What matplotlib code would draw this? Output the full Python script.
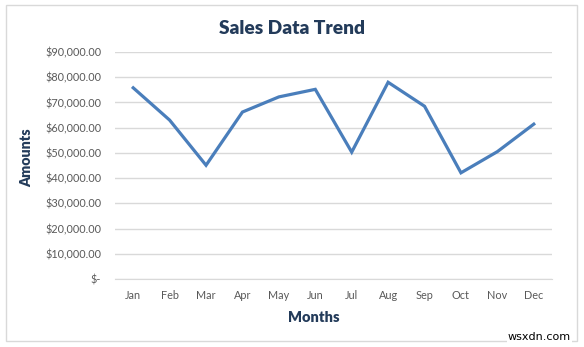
import matplotlib
matplotlib.use("Agg")
import matplotlib.pyplot as plt
from matplotlib.patches import Rectangle
from matplotlib.ticker import FuncFormatter, MultipleLocator

months = ["Jan", "Feb", "Mar", "Apr", "May", "Jun",
          "Jul", "Aug", "Sep", "Oct", "Nov", "Dec"]
sales = [75800, 63000, 45100, 66200, 72200, 75200,
         50300, 78000, 68500, 42100, 50500, 61400]

plt.rcParams["font.family"] = ["Lato", "DejaVu Sans"]

W, H = 584, 347
fig = plt.figure(figsize=(W / 100, H / 100), dpi=100)
fig.patch.set_facecolor("white")

# chart frame
fig.add_artist(Rectangle((6 / W, 1 - 341 / H), (577 - 6) / W, (341 - 5) / H,
                         transform=fig.transFigure, fill=False,
                         edgecolor="#d9d9d9", linewidth=1.0))

ax = fig.add_axes([115 / W, 1 - 279 / H, 437 / W, (279 - 52) / H])
x = range(len(months))
ax.plot(x, sales, color="#4a7ebb", linewidth=2.3, solid_joinstyle="miter")

ax.set_xlim(-0.5, len(months) - 0.5)
ax.set_ylim(0, 90000)
ax.yaxis.set_major_locator(MultipleLocator(10000))


def money(v, _pos):
    if abs(v) < 1e-6:
        return "$-"
    return "${:,.2f}".format(v)


ax.yaxis.set_major_formatter(FuncFormatter(money))
ax.set_xticks(list(x))
ax.set_xticklabels(months)

ax.grid(axis="y", color="#d9d9d9", linewidth=1.0)
ax.set_axisbelow(True)
for s in ["top", "right", "left"]:
    ax.spines[s].set_visible(False)
ax.spines["bottom"].set_color("#d9d9d9")
ax.tick_params(axis="both", length=0, colors="#595959", labelsize=7.8)
ax.tick_params(axis="y", pad=10)
ax.tick_params(axis="x", pad=8)

navy = "#233b5a"
fig.text(292 / W, 1 - 29 / H, "Sales Data Trend", ha="center", va="center",
         fontsize=13.8, fontweight="heavy", color=navy)
fig.text(314 / W, 1 - 318 / H, "Months", ha="center", va="center",
         fontsize=10.5, fontweight="heavy", color=navy)
fig.text(27 / W, 1 - 158 / H, "Amounts", ha="center", va="center",
         rotation=90, fontsize=10.3, fontweight="heavy", color=navy)

fig.text(571 / W, 1 - 337 / H, "wsxdn.com", ha="right", va="center",
         fontsize=8, color="black", family="DejaVu Sans",
         bbox=dict(facecolor="white", edgecolor="none", pad=1.0))

fig.savefig("out.png", dpi=100, facecolor="white")
